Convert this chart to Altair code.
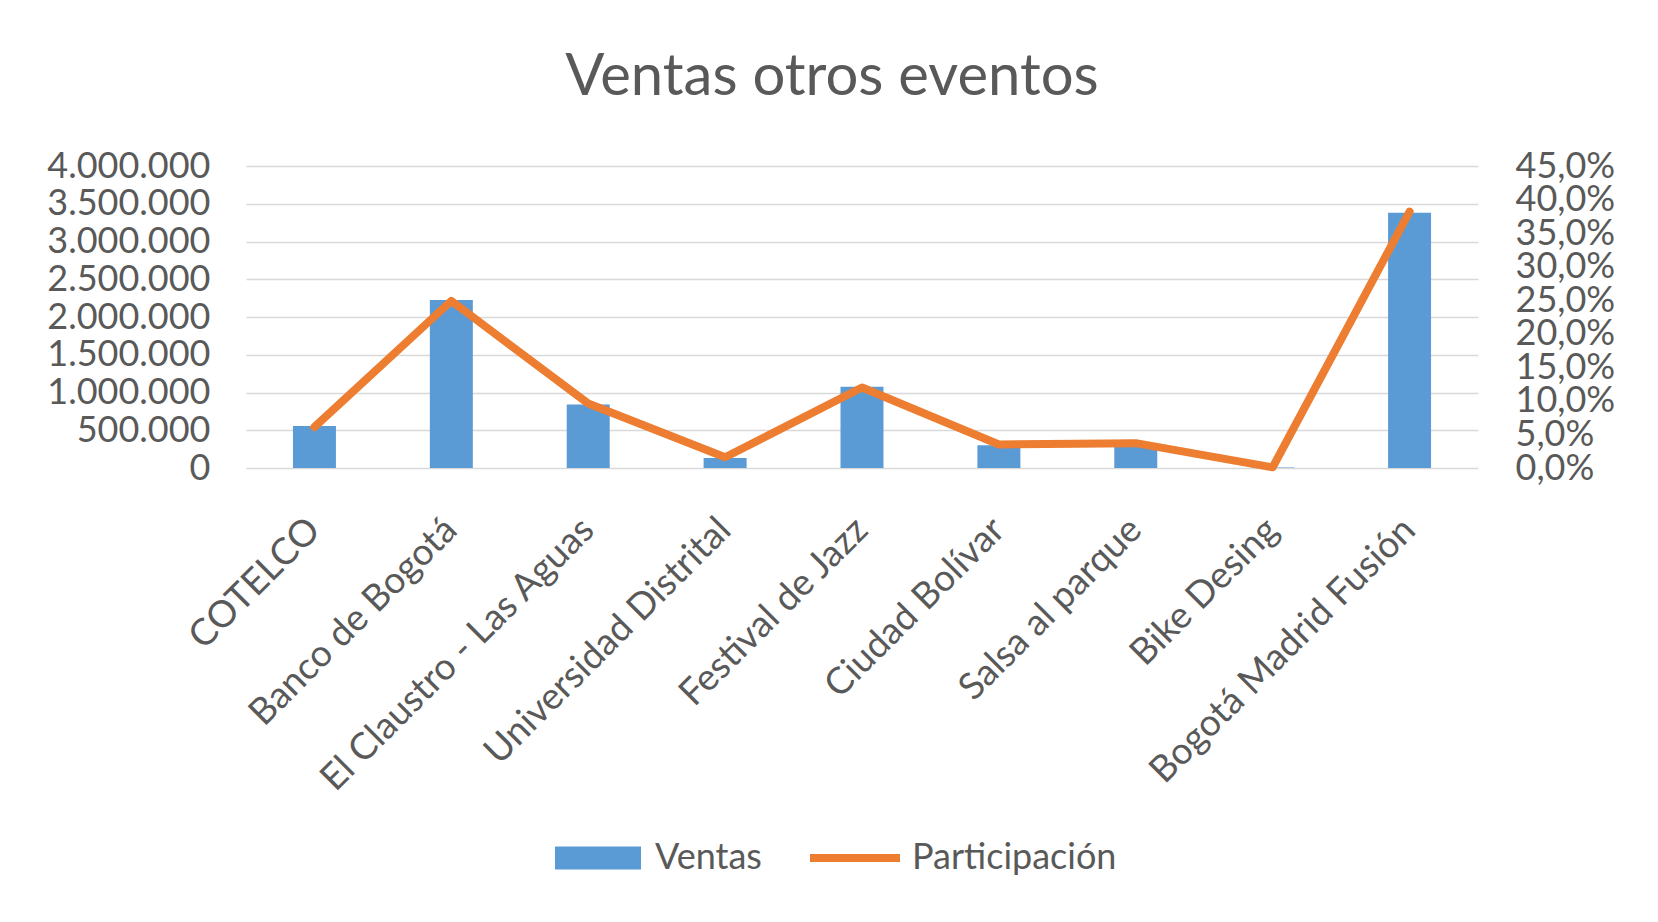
import altair as alt
import pandas as pd

eventos = ["COTELCO", "Banco de Bogotá", "El Claustro - Las Aguas", "Universidad Distrital",
           "Festival de Jazz", "Ciudad Bolívar", "Salsa al parque", "Bike Desing",
           "Bogotá Madrid Fusión"]
ventas = [556000, 2225000, 842000, 132000, 1077000, 300000, 290000, 5000, 3381000]
participacion = [0.061, 0.249, 0.096, 0.016, 0.120, 0.035, 0.037, 0.001, 0.382]
left_ticks = [0, 500000, 1000000, 1500000, 2000000, 2500000, 3000000, 3500000, 4000000]
right_ticks = [0, 0.05, 0.10, 0.15, 0.20, 0.25, 0.30, 0.35, 0.40, 0.45]
series = ["Ventas", "Participación"]

df = pd.DataFrame({"evento": eventos, "Ventas": ventas, "Participacion": participacion})

BLUE = "#5B9BD5"
ORANGE = "#ED7D31"
TXT = "#595959"
FONT = "Lato"

x = alt.X("evento:N", sort=eventos,
          scale=alt.Scale(paddingInner=0.686, paddingOuter=0.343),
          axis=alt.Axis(title=None, labelAngle=-45, labelAlign="right", labelBaseline="middle",
                        labelFontSize=37, labelColor=TXT, labelFont=FONT, labelPadding=56,
                        domain=False, ticks=False, labelLimit=1000, labelOverlap=False))

bars = alt.Chart(df).mark_bar(color=BLUE).encode(
    x=x,
    y=alt.Y("Ventas:Q", scale=alt.Scale(domain=[0, 4000000], nice=False),
            axis=alt.Axis(title=None, values=left_ticks, orient="left",
                          labelExpr="replace(format(datum.value, ','), regexp(',', 'g'), '.')",
                          labelFontSize=36, labelColor=TXT, labelFont=FONT, labelPadding=36,
                          domain=False, ticks=False, grid=True, gridColor="#D9D9D9",
                          gridWidth=1.5, labelOverlap=False))
)

line = alt.Chart(df).mark_line(color=ORANGE, strokeWidth=8, strokeCap="round",
                               strokeJoin="round").encode(
    x=x,
    y=alt.Y("Participacion:Q", scale=alt.Scale(domain=[0, 0.45], nice=False),
            axis=alt.Axis(title=None, values=right_ticks, orient="right",
                          labelExpr="replace(format(datum.value, '.1%'), '.', ',')",
                          labelFontSize=36, labelColor=TXT, labelFont=FONT, labelPadding=37,
                          domain=False, ticks=False, grid=False, labelOverlap=False,
                          labelBound=False, labelFlush=False))
)

legend_props = dict(title=None, orient="none", direction="horizontal",
                    legendX=307, legendY=647,
                    labelFontSize=36, labelColor=TXT, labelFont=FONT,
                    symbolSize=8100, symbolStrokeWidth=0,
                    labelOffset=12, columnPadding=48, labelLimit=1000)

legend_layer = alt.Chart(df).transform_calculate(serie="'Ventas'").transform_filter(
    "datum.Ventas < 0").mark_point(filled=True, opacity=1).encode(
    color=alt.Color("serie:N", scale=alt.Scale(domain=series, range=[BLUE, ORANGE]),
                    legend=alt.Legend(**legend_props)),
    shape=alt.Shape("serie:N", scale=alt.Scale(
        domain=series,
        range=["M-0.956,-0.256H0.956V0.256H-0.956Z", "M-1,-0.09H1V0.09H-1Z"]),
        legend=alt.Legend(**legend_props)),
)

chart = alt.layer(bars, line, legend_layer).resolve_scale(y="independent").properties(
    width=1232, height=302,
    autosize=alt.AutoSizeParams(type="none"),
    padding={"left": 238, "top": 158, "right": 160, "bottom": 430},
    background="white",
    title=alt.TitleParams("Ventas otros eventos", fontSize=58, font=FONT, color=TXT,
                          fontWeight="normal", anchor="middle", dx=-30, offset=-5,
                          baseline="alphabetic"),
).configure_view(stroke=None)

chart.save("out.html", embed_options={"renderer": "svg", "actions": False})
